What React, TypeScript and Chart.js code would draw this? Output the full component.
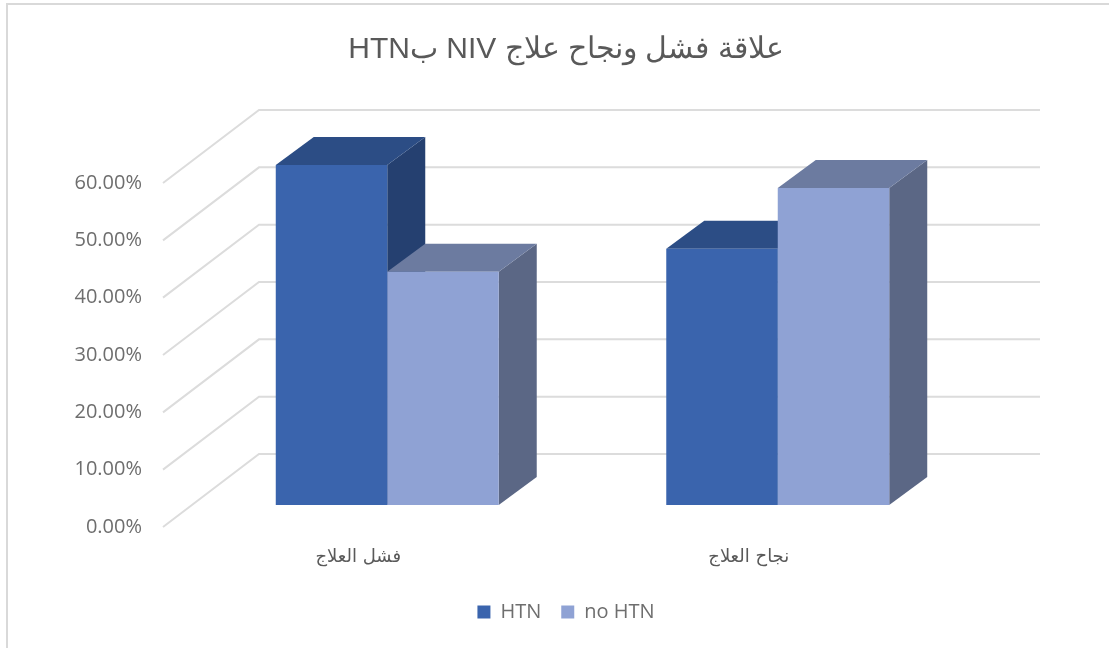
import React, { useEffect, useRef } from "react";
import { Chart, registerables } from "chart.js";

Chart.register(...registerables);

const categories = ["فشل العلاج", "نجاح العلاج"];
const htnValues = [59.3, 44.7];
const noHtnValues = [40.7, 55.3];
const titleText = "علاقة فشل ونجاح علاج NIV بHTN";
const seriesNames = ["HTN", "no HTN"];
const frontColors = ["#3A64AD", "#8FA2D4"];
const topColors = ["#2C4D85", "#6C7BA0"];
const sideColors = ["#254070", "#5B6785"];
const axisMin = 0;
const axisMax = 60;
const axisStep = 10;
const gridValues = [0, 10, 20, 30, 40, 50, 60];

const DEPTH_X = 38;
const DEPTH_Y = 28;
const WALL_X = 67;
const WALL_Y = 51;
const FLOOR_X = 29;
const FLOOR_Y = 22;

const poly = (ctx: CanvasRenderingContext2D, pts: number[][], fill: string) => {
  ctx.beginPath();
  pts.forEach(([x, y], i) => (i ? ctx.lineTo(x, y) : ctx.moveTo(x, y)));
  ctx.closePath();
  ctx.fillStyle = fill;
  ctx.fill();
};

const threeD = {
  id: "threeD",
  beforeDraw(chart: any) {
    chart.ctx.direction = "rtl";
  },
  beforeDatasetsDraw(chart: any) {
    const { ctx, chartArea, scales } = chart;
    const y = scales.y;
    ctx.save();
    ctx.strokeStyle = "#DCDCDC";
    ctx.lineWidth = 2;
    gridValues.forEach((v) => {
      const py = y.getPixelForValue(v);
      ctx.beginPath();
      ctx.moveTo(chartArea.left - FLOOR_X, py + FLOOR_Y);
      ctx.lineTo(chartArea.left + WALL_X, py - WALL_Y);
      ctx.lineTo(chartArea.right + WALL_X, py - WALL_Y);
      ctx.stroke();
    });
    chart.data.datasets.forEach((_: any, di: number) => {
      const meta = chart.getDatasetMeta(di);
      meta.data.forEach((bar: any) => {
        const { x, y: top, base, width } = bar.getProps(["x", "y", "base", "width"], true);
        const l = x - width / 2;
        const r = x + width / 2;
        poly(ctx, [[r, top], [r + DEPTH_X, top - DEPTH_Y], [r + DEPTH_X, base - DEPTH_Y], [r, base]], sideColors[di]);
        poly(ctx, [[l, top], [l + DEPTH_X, top - DEPTH_Y], [r + DEPTH_X, top - DEPTH_Y], [r, top]], topColors[di]);
      });
    });
    ctx.restore();
  },
};

export default function App() {
  const ref = useRef<HTMLCanvasElement>(null);
  useEffect(() => {
    const chart = new Chart(ref.current!, {
      type: "bar",
      data: {
        labels: categories,
        datasets: [
          { label: seriesNames[0], data: htnValues, backgroundColor: frontColors[0] },
          { label: seriesNames[1], data: noHtnValues, backgroundColor: frontColors[1] },
        ],
      },
      plugins: [threeD],
      options: {
        animation: false,
        responsive: false,
        layout: { padding: { left: 60, right: 37, top: 0, bottom: 16 } },
        datasets: { bar: { categoryPercentage: 0.571, barPercentage: 1 } },
        scales: {
          x: {
            grid: { display: false, drawTicks: false },
            border: { display: false },
            afterFit: (s: any) => { s.height = 77; },
            ticks: {
              color: "#595959",
              font: { family: "'DejaVu Sans'", size: 18 },
              padding: 42,
              labelOffset: -29,
              maxRotation: 0,
            },
          },
          y: {
            min: axisMin,
            max: axisMax,
            grid: { display: false, drawTicks: false },
            border: { display: false },
            afterFit: (s: any) => { s.width = 132; },
            ticks: {
              stepSize: axisStep,
              color: "#6E6E6E",
              font: { family: "'Open Sans'", size: 20 },
              padding: 50,
              labelOffset: 22,
              callback: (v: any) => Number(v).toFixed(2) + "%",
            },
          },
          yRightSpacer: {
            position: "right",
            min: axisMin,
            max: axisMax,
            grid: { display: false, drawTicks: false },
            border: { display: false },
            ticks: { display: false },
            afterFit: (s: any) => { s.width = 99; },
          },
        },
        plugins: {
          tooltip: { enabled: false },
          title: {
            display: true,
            text: titleText,
            color: "#595959",
            font: { family: "'Liberation Sans'", size: 30, weight: "normal" },
            padding: { top: 32, bottom: 93 },
          },
          legend: {
            position: "bottom",
            labels: {
              boxWidth: 13,
              boxHeight: 13,
              padding: 20,
              color: "#6E6E6E",
              font: { family: "'Open Sans'", size: 20 },
            },
          },
        },
      } as any,
    });
    return () => chart.destroy();
  }, []);
  return (
    <div style={{ position: "absolute", left: 0, top: 0, width: 1109, height: 648, background: "#fff", overflow: "hidden" }}>
      <canvas ref={ref} width={1109} height={648} style={{ display: "block", filter: "blur(0.4px)" }} />
      <div style={{ position: "absolute", left: 6, top: 3, width: 2, height: 645, background: "#D9D9D9" }} />
      <div style={{ position: "absolute", left: 6, top: 3, width: 1103, height: 2, background: "#D9D9D9" }} />
    </div>
  );
}
